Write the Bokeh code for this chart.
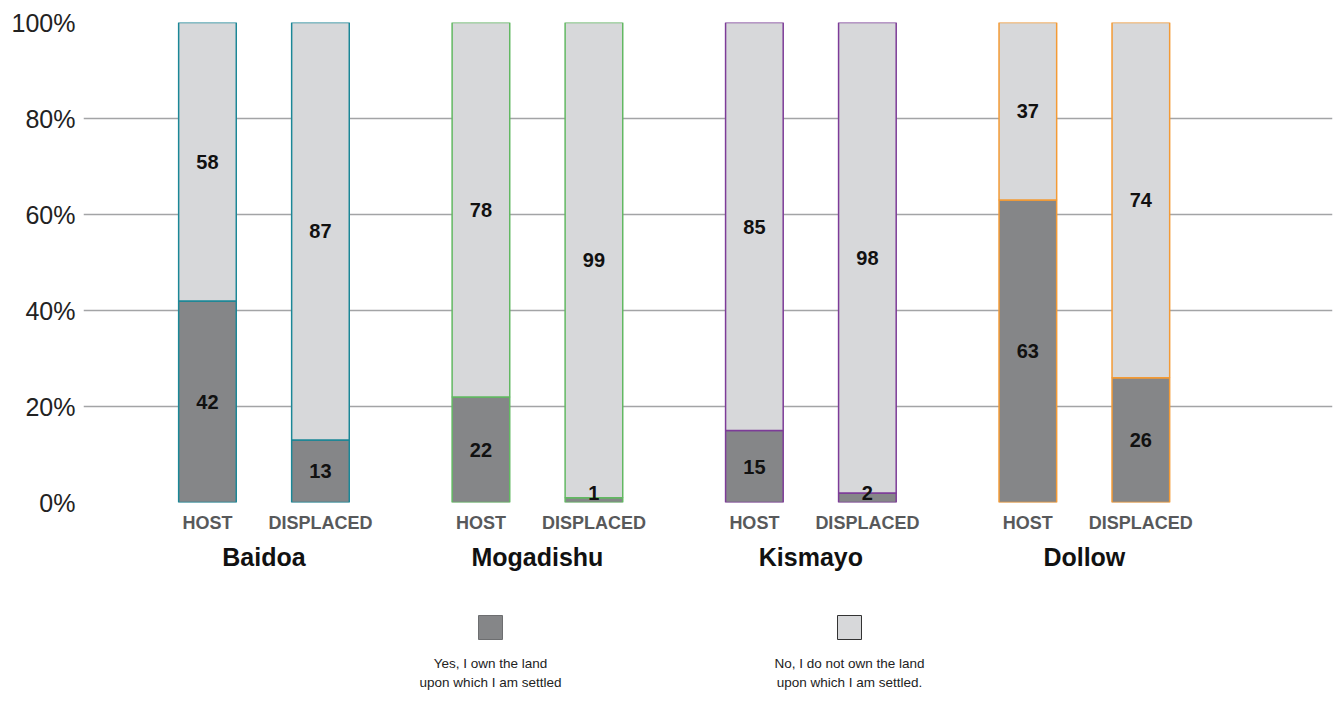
from bokeh.plotting import figure
from bokeh.models import ColumnDataSource, Range1d, LinearAxis, FixedTicker, PrintfTickFormatter
from bokeh.layouts import column
from bokeh.core.properties import value
from bokeh.embed import file_html
from bokeh.resources import INLINE

# ---- data -------------------------------------------------------------
cities = ["Baidoa", "Mogadishu", "Kismayo", "Dollow"]
groups = ["HOST", "DISPLACED"]
own_yes_host = [42, 22, 15, 63]
own_no_host = [58, 78, 85, 37]
own_yes_displaced = [13, 1, 2, 26]
own_no_displaced = [87, 99, 98, 74]
city_colors = ["#1b8797", "#62b862", "#7d3c98", "#f39a35"]
y_ticks = [0, 20, 40, 60, 80, 100]
legend_labels = [
    "Yes, I own the land\nupon which I am settled",
    "No, I do not own the land\nupon which I am settled.",
]

YES_FILL = "#858688"
NO_FILL = "#d7d8da"
legend_fills = [YES_FILL, NO_FILL]
legend_lines = ["#6d6e70", "#333333"]

FONT = "Liberation Sans"

# ---- layout of the x positions (integer units) ------------------------
GROUP_STEP = 242    # distance between city groups
SUB_STEP = 100      # distance between HOST and DISPLACED bars
BAR_W = 51

yes_by_group = [own_yes_host, own_yes_displaced]
no_by_group = [own_no_host, own_no_displaced]

xs, yes, no, outline, sub_names = [], [], [], [], []
for ci, city in enumerate(cities):
    for gi, grp in enumerate(groups):
        xs.append(ci * GROUP_STEP + gi * SUB_STEP)
        yes.append(yes_by_group[gi][ci])
        no.append(no_by_group[gi][ci])
        outline.append(city_colors[ci])
        sub_names.append(grp)

# label positions: middle of each segment, kept inside the frame
yes_mid = [max(v / 2, 2.0) for v in yes]
no_mid = [y + n / 2 for y, n in zip(yes, no)]

src = ColumnDataSource(dict(
    x=xs, yes=yes, no=no, outline=outline,
    yes_mid=yes_mid, no_mid=no_mid,
    yes_label=[str(v) for v in yes], no_label=[str(v) for v in no],
))

p = figure(
    width=1338, height=595,
    x_range=Range1d(-109.7, 995.6), y_range=Range1d(0, 100),
    output_backend="svg", toolbar_location=None,
    min_border_left=83, min_border_right=6, min_border_top=22, min_border_bottom=93,
    x_axis_location=None,
)
p.outline_line_color = None
p.background_fill_color = "white"
p.border_fill_color = "white"
p.xgrid.grid_line_color = None
p.ygrid.grid_line_color = "#a3a4a6"
p.ygrid.grid_line_width = 1.3
p.ygrid.ticker = FixedTicker(ticks=y_ticks)

# y axis
p.yaxis.ticker = FixedTicker(ticks=y_ticks)
p.yaxis.formatter = PrintfTickFormatter(format="%d%%")
p.yaxis.axis_line_color = None
p.yaxis.major_tick_line_color = None
p.yaxis.minor_tick_line_color = None
p.yaxis.major_tick_out = 0
p.yaxis.minor_tick_out = 0
p.yaxis.major_label_text_font = FONT
p.yaxis.major_label_text_font_size = "25px"
p.yaxis.major_label_text_color = "#222222"
p.yaxis.major_label_standoff = 8

# stacked bars
p.vbar_stack(["yes", "no"], x="x", width=BAR_W, source=src,
             fill_color=[YES_FILL, NO_FILL], line_color="outline", line_width=1.5)

# value labels
for ycol, tcol in (("yes_mid", "yes_label"), ("no_mid", "no_label")):
    p.text(x="x", y=ycol, text=tcol, source=src,
           text_font=value(FONT), text_font_size="20px", text_font_style="bold",
           text_color="#111111", text_align="center", text_baseline="middle")


def plain_axis(ticks, labels, size, color, standoff):
    ax = LinearAxis(
        ticker=FixedTicker(ticks=ticks),
        major_label_overrides={t: s for t, s in zip(ticks, labels)},
    )
    ax.axis_line_color = None
    ax.major_tick_line_color = None
    ax.minor_tick_line_color = None
    ax.major_tick_out = 0
    ax.minor_tick_out = 0
    ax.major_label_text_font = FONT
    ax.major_label_text_font_size = size
    ax.major_label_text_font_style = "bold"
    ax.major_label_text_color = color
    ax.major_label_standoff = standoff
    return ax


# sub-group axis (HOST / DISPLACED)
p.add_layout(plain_axis(xs, sub_names, "18px", "#58595b", 10), "below")

# city axis
city_ticks = [ci * GROUP_STEP + SUB_STEP // 2 for ci in range(len(cities))]
p.add_layout(plain_axis(city_ticks, cities, "25px", "#111111", 7), "below")

# ---- legend ------------------------------------------------------------
# the frame of this figure lines up with the chart frame (83 .. 1332 px)
lg = figure(
    width=1338, height=106,
    x_range=Range1d(83, 1332), y_range=Range1d(0, 106),
    output_backend="svg", toolbar_location=None,
    min_border=0, min_border_left=83, min_border_right=6,
    x_axis_location=None, y_axis_location=None,
)
lg.outline_line_color = None
lg.grid.grid_line_color = None
lg.background_fill_color = "white"
lg.border_fill_color = "white"

legend_x = [490, 849]
lsrc = ColumnDataSource(dict(
    x=legend_x, sq_y=[74, 74], txt_y=[46, 46],
    fill=legend_fills, line=legend_lines, label=legend_labels,
))
lg.rect(x="x", y="sq_y", width=24, height=24, source=lsrc,
        fill_color="fill", line_color="line", line_width=1)
lg.text(x="x", y="txt_y", text="label", source=lsrc,
        text_font=value(FONT), text_font_size="13.5px", text_color="#222222",
        text_align="center", text_baseline="top", text_line_height=1.3)

layout = column(p, lg, spacing=0)
open("out.html", "w").write(file_html(layout, INLINE))
